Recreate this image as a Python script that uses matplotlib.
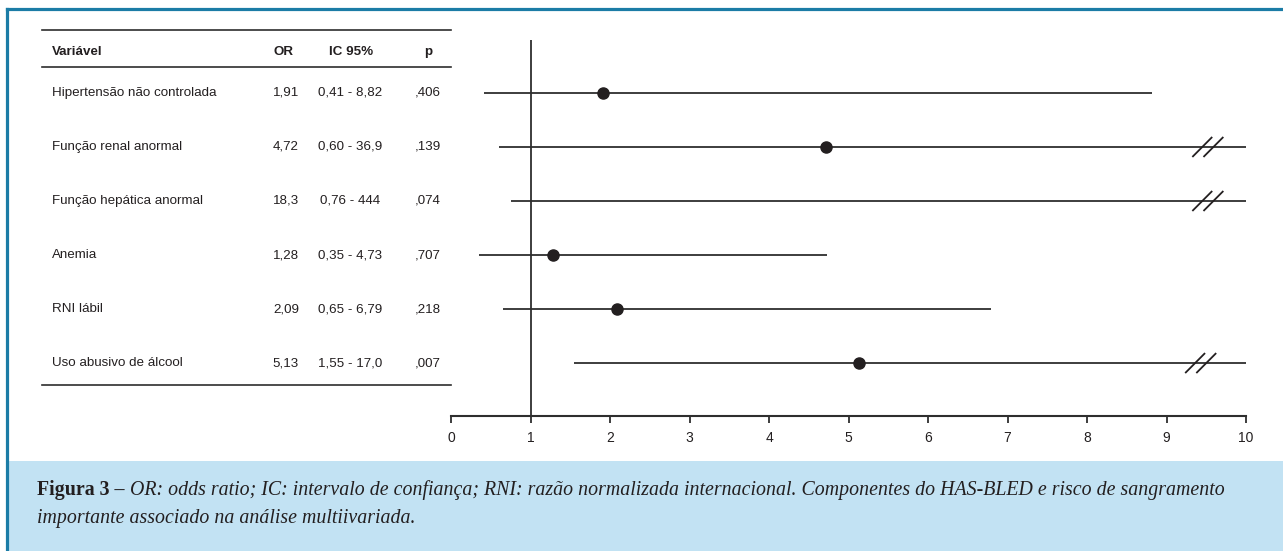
import matplotlib
matplotlib.use("Agg")
import matplotlib.pyplot as plt
from matplotlib import transforms
from matplotlib.lines import Line2D
from matplotlib.patches import Rectangle

# dados da tabela (Figura 3)
variaveis = ["Hipertensão não controlada", "Função renal anormal", "Função hepática anormal",
             "Anemia", "RNI lábil", "Uso abusivo de álcool"]
odds_ratio = [1.91, 4.72, 18.3, 1.28, 2.09, 5.13]
ic_inf = [0.41, 0.60, 0.76, 0.35, 0.65, 1.55]
ic_sup = [8.82, 36.9, 444, 4.73, 6.79, 17.0]
or_txt = ["1,91", "4,72", "18,3", "1,28", "2,09", "5,13"]
ic_txt = ["0,41 - 8,82", "0,60 - 36,9", "0,76 - 444", "0,35 - 4,73", "0,65 - 6,79", "1,55 - 17,0"]
p_txt = [",406", ",139", ",074", ",707", ",218", ",007"]
xticks = list(range(0, 11))
x_max = 10

W, H = 1283, 551
fig = plt.figure(figsize=(W / 100, H / 100), dpi=100)
fig.patch.set_facecolor("white")

fonte = ["Liberation Sans Narrow", "Liberation Sans", "DejaVu Sans"]
serif = ["Liberation Serif", "DejaVu Serif"]
cor = "#231f20"
linha = "#2e2e2e"
azul = "#1b7ca6"

def fx(px):
    return px / W

def fy(py):
    return 1 - py / H

# moldura e faixa da legenda
fig.add_artist(Rectangle((fx(8), 0), 1 - fx(8), fy(461), transform=fig.transFigure,
                         facecolor="#c2e2f3", edgecolor="none", zorder=0))
fig.add_artist(Line2D([fx(6.5), 1], [fy(9), fy(9)], transform=fig.transFigure, color=azul, lw=2.3))
fig.add_artist(Line2D([fx(6.5), fx(6.5)], [0, fy(9)], transform=fig.transFigure, color=azul, lw=2.3))

# eixo do forest plot
ax = fig.add_axes([fx(451), fy(416), fx(1246) - fx(451), fy(40) - fy(416)])
n = len(variaveis)
ax.set_xlim(0, x_max)
ax.set_ylim(5.98, -0.98)
ax.set_facecolor("none")
for s in ["top", "right", "left"]:
    ax.spines[s].set_visible(False)
ax.spines["bottom"].set_color(linha)
ax.spines["bottom"].set_linewidth(1.5)
ax.spines["bottom"].set_bounds(0, x_max)
ax.set_yticks([])
ax.set_xticks(xticks)
ax.set_xticklabels([str(t) for t in xticks], fontfamily=fonte, fontsize=10, color=cor)
ax.tick_params(axis="x", direction="out", length=5, width=1.3, color=linha, pad=6)
ax.axvline(1, color=linha, lw=1.3)

for i in range(n):
    hi = min(ic_sup[i], x_max)
    ax.plot([ic_inf[i], hi], [i, i], color=linha, lw=1.3, solid_capstyle="butt")
    if odds_ratio[i] <= x_max:
        ax.plot(odds_ratio[i], i, "o", color=cor, ms=8)
    if ic_sup[i] > x_max:
        c = 9.52 if i != 5 else 9.43
        for d in (-0.07, 0.07):
            ax.plot([c + d - 0.125, c + d + 0.125], [i + 0.185, i - 0.185],
                    color=cor, lw=1.3, solid_capstyle="butt")

# tabela à esquerda (x em pixels da figura, y nas linhas do eixo)
tr = transforms.blended_transform_factory(fig.transFigure, ax.transData)
ty = lambda py: (py - 93) / 54.0
for py in (30, 67, 385):
    ax.add_line(Line2D([fx(42), fx(451)], [ty(py), ty(py)], transform=tr, color=linha,
                       lw=1.2, clip_on=False))
hy = ty(52)
kw = dict(transform=tr, fontfamily=fonte, fontsize=9.6, color=cor, va="center")
ax.text(fx(52), hy, "Variável", ha="left", fontweight="bold", **kw)
ax.text(fx(283), hy, "OR", ha="center", fontweight="bold", **kw)
ax.text(fx(351), hy, "IC 95%", ha="center", fontweight="bold", **kw)
ax.text(fx(428), hy, "p", ha="center", fontweight="bold", **kw)
for i in range(n):
    ax.text(fx(52), i, variaveis[i], ha="left", **kw)
    ax.text(fx(286), i, or_txt[i], ha="center", **kw)
    ax.text(fx(350), i, ic_txt[i], ha="center", **kw)
    ax.text(fx(428), i, p_txt[i], ha="center", **kw)

# legenda da figura
fig.canvas.draw()
r = fig.canvas.get_renderer()
t1 = fig.text(fx(37), fy(490), "Figura 3 – ", fontfamily=serif, fontsize=14.3, fontweight="bold",
              color=cor, va="center", ha="left")
bb = t1.get_window_extent(renderer=r)
fig.text(bb.x1 / W, fy(490),
         "OR: odds ratio; IC: intervalo de confiança; RNI: razão normalizada internacional. "
         "Componentes do HAS-BLED e risco de sangramento",
         fontfamily=serif, fontsize=14.3, fontstyle="italic", color=cor, va="center", ha="left")
fig.text(fx(37), fy(518), "importante associado na análise multiivariada.", fontfamily=serif,
         fontsize=14.3, fontstyle="italic", color=cor, va="center", ha="left")

fig.savefig("out.png", dpi=100)
